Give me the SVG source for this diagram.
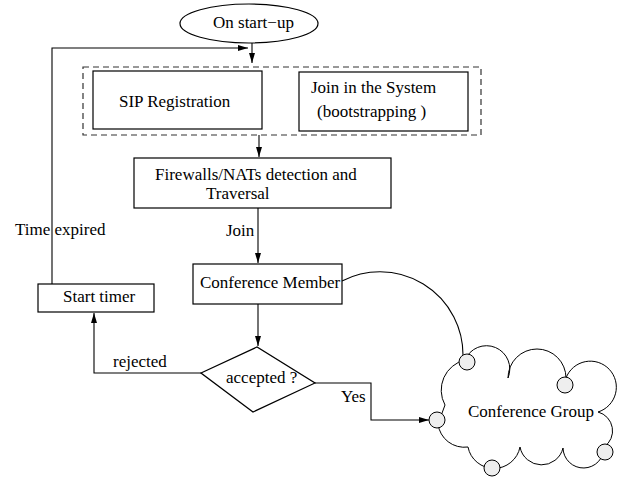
<svg xmlns="http://www.w3.org/2000/svg" width="622" height="481" viewBox="0 0 622 481">
<style>
  text { font-family: "Liberation Serif", "Times New Roman", serif; font-size: 17px; fill: #000; }
  .box { fill: #fff; stroke: #000; stroke-width: 1.2; }
  .line { fill: none; stroke: #000; stroke-width: 1.1; }
  .dash { fill: none; stroke: #333; stroke-width: 1.2; stroke-dasharray: 6 4; }
  .bub { fill: #eeeeee; stroke: #000; stroke-width: 1; }
</style>
<defs>
  <marker id="arr" viewBox="0 0 10 6" refX="10" refY="3" markerWidth="10" markerHeight="6" markerUnits="userSpaceOnUse" orient="auto">
    <path d="M0,0 L10,3 L0,6 Z" fill="#000"/>
  </marker>
</defs>
<rect width="622" height="481" fill="#fff"/>

<g id="connectors">
  <path class="line" d="M52,284 V48 H248" marker-end="url(#arr)"/>
  <path class="line" d="M252,43 V63" marker-end="url(#arr)"/>
  <path class="line" d="M259,135 V157" marker-end="url(#arr)"/>
  <path class="line" d="M258,208 V263" marker-end="url(#arr)"/>
  <path class="line" d="M258,304 V346" marker-end="url(#arr)"/>
  <path class="line" d="M201,373 H94 V313" marker-end="url(#arr)"/>
  <path class="line" d="M315,383 H371 V420 H429" marker-end="url(#arr)"/>
  <path class="line" d="M342,281 A83,83 0 0 1 463,355"/>
  <text x="226" y="236">Join</text>
  <text x="15" y="235">Time expired</text>
  <text x="113" y="367">rejected</text>
  <text x="341" y="402">Yes</text>
</g>

<g id="startup">
  <ellipse class="box" cx="249" cy="23.5" rx="69" ry="19.5"/>
  <text x="213" y="28">On start−up</text>
</g>

<g id="group-dashed">
  <rect class="dash" x="83" y="67" width="398" height="68"/>
</g>

<g id="sip">
  <rect class="box" x="93" y="71" width="169" height="58"/>
  <text x="119" y="107">SIP Registration</text>
</g>

<g id="join-system">
  <rect class="box" x="299" y="72" width="169" height="59"/>
  <text x="311" y="93">Join in the System</text>
  <text x="317" y="117">(bootstrapping )</text>
</g>

<g id="firewalls">
  <rect class="box" x="134" y="158" width="257" height="50"/>
  <text x="155" y="180">Firewalls/NATs detection and</text>
  <text x="206" y="199">Traversal</text>
</g>

<g id="member">
  <rect class="box" x="193" y="264" width="149" height="40"/>
  <text x="200" y="288">Conference Member</text>
</g>

<g id="timer">
  <rect class="box" x="38" y="284" width="116" height="28"/>
  <text x="63" y="302">Start timer</text>
</g>

<g id="decision">
  <path class="box" d="M201,373 L257,347 L315,383 L253,412 Z"/>
  <text x="226" y="383">accepted ?</text>
</g>

<g id="conference-group">
  <path fill="#fff" stroke="#000" stroke-width="1" d="M465,360
    A22,22 0 0 1 508,378
    A28,28 0 0 1 566,378
    A26,26 0 1 1 598,412
    A19.5,19.5 0 0 1 604,447
    A20,20 0 0 1 563,448
    A22,22 0 0 1 520,447
    A26.5,26.5 0 0 1 468,447
    A26.5,26.5 0 0 1 438,424
    L445,405
    A31,31 0 0 1 465,360 Z"/>
  <circle class="bub" cx="467" cy="362" r="8"/>
  <circle class="bub" cx="437" cy="420" r="8"/>
  <circle class="bub" cx="492" cy="468" r="8"/>
  <circle class="bub" cx="565" cy="385" r="8"/>
  <circle class="bub" cx="605" cy="452" r="8"/>
  <text x="468" y="417">Conference Group</text>
</g>
</svg>
